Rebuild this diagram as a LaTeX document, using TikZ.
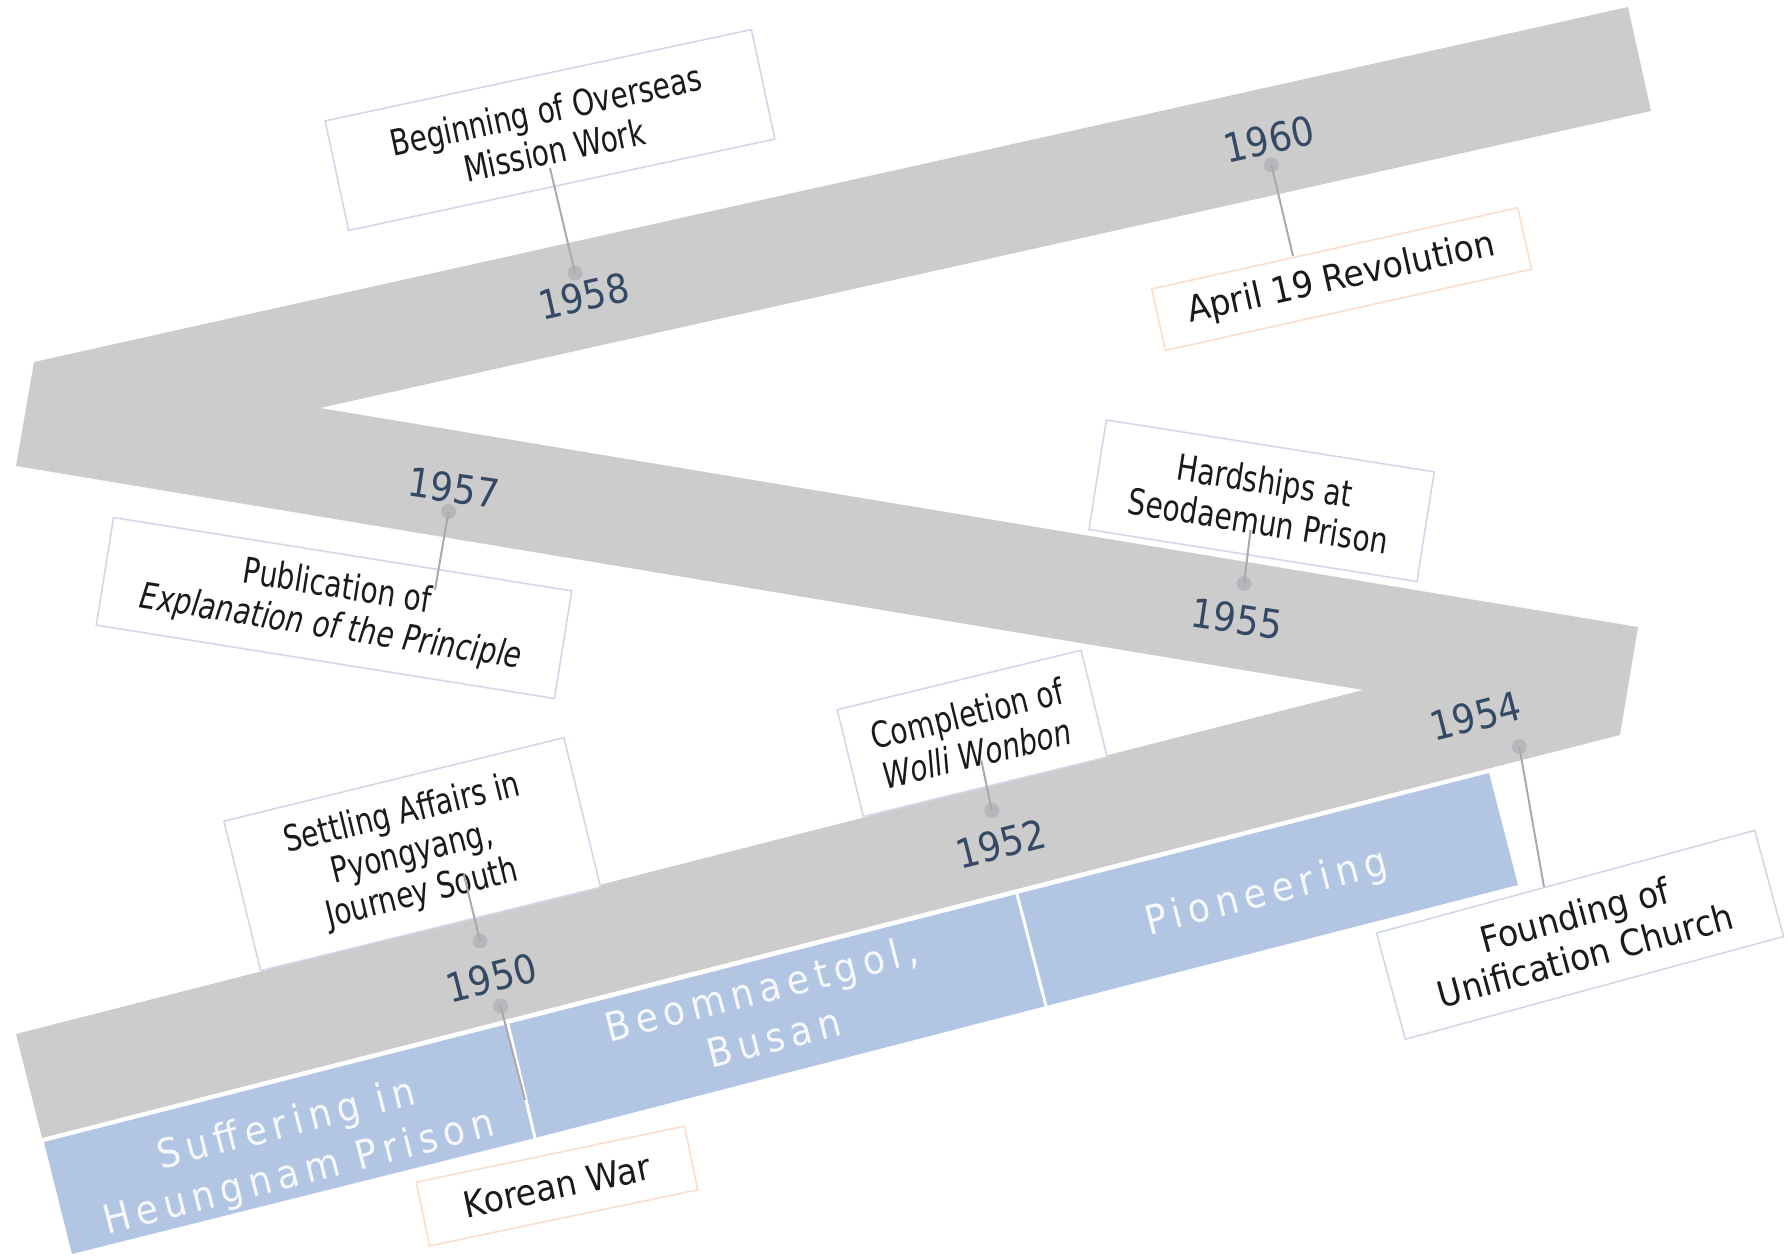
\documentclass[tikz,border=0pt]{standalone}
\usepackage{fontspec}
\setmainfont{DejaVu Sans}
\newfontfamily\evfont[FakeStretch=0.78]{DejaVu Sans}
\newfontfamily\evwide[FakeStretch=0.92]{DejaVu Sans}
\newfontfamily\yearfont[FakeStretch=0.9]{DejaVu Sans}
\newfontfamily\blockfont[FakeStretch=0.9,LetterSpace=16]{DejaVu Sans}
\definecolor{bandgrey}{RGB}{205,204,205}
\definecolor{blockblue}{RGB}{178,198,228}
\definecolor{yearcol}{RGB}{52,73,100}
\definecolor{boxblue}{RGB}{208,216,232}
\definecolor{boxorange}{RGB}{250,222,204}
\definecolor{conncol}{RGB}{170,170,174}
\definecolor{dotcol}{RGB}{182,183,188}
\definecolor{evtext}{RGB}{26,26,28}
\definecolor{blocktext}{RGB}{246,248,252}
\tikzset{
  evbox/.style={draw=boxblue, line width=1.6pt, fill=white, inner sep=0pt, align=center,
    text=evtext, font=\evfont\fontsize{36}{41}\selectfont},
  orbox/.style={evbox, draw=boxorange, font=\evwide\fontsize{36}{42}\selectfont},
  widebox/.style={evbox, font=\evwide\fontsize{36}{42}\selectfont},
  yearlabel/.style={text=yearcol, inner sep=0pt, font=\yearfont\fontsize{40}{40}\selectfont},
  tdot/.style={circle, fill=dotcol, inner sep=0pt, minimum size=15pt},
  conn/.style={draw=conncol, line width=2pt},
  blocklabel/.style={text=blocktext, inner sep=0pt, align=center,
    font=\blockfont\fontsize{40}{50}\selectfont},
  sepline/.style={draw=white, line width=3pt}
}
\begin{document}
\begin{tikzpicture}[x=1pt,y=-1pt]
\useasboundingbox (0,0) rectangle (1788,1258);

% grey zigzag band
\fill[bandgrey] (34,362) -- (1628,7) -- (1651,111) -- (320,408) -- (1638,627)
  -- (1620,735) -- (42,1138) -- (16,1034) -- (1363,690) -- (16,466) -- cycle;

% blue period blocks
\fill[blockblue] (44,1142) -- (508,1024) -- (535,1138) -- (72,1254) -- cycle;
\fill[blockblue] (508,1024) -- (1017,894) -- (1046,1006) -- (535,1138) -- cycle;
\fill[blockblue] (1017,894) -- (1489,773) -- (1518,885) -- (1046,1006) -- cycle;
\draw[sepline] (508,1024) -- (535,1138);
\draw[sepline] (1017,894) -- (1046,1006);

% event boxes
\node[evbox, minimum width=436pt, minimum height=112pt, rotate=12.1] (beg) at (550,130)
  {Beginning of Overseas\\Mission Work};
\node[orbox, minimum width=375pt, minimum height=63pt, rotate=12.5] (apr) at (1341.6,279.1)
  {April 19 Revolution};
\node[evbox, minimum width=464pt, minimum height=109pt, rotate=-9.1] (pub) at (334,608)
  {Publication of\\\textit{Explanation of the Principle}};
\node[evbox, minimum width=332pt, minimum height=111pt, rotate=-9] (hard) at (1261.6,500.7)
  {Hardships at\\Seodaemun Prison};
\node[evbox, minimum width=251pt, minimum height=110pt, rotate=13.7] (comp) at (972.2,733.4)
  {Completion of\\\textit{Wolli Wonbon}};
\node[evbox, minimum width=350pt, minimum height=154pt, rotate=13.8] (sett) at (412.3,854.2)
  {Settling Affairs in\\Pyongyang,\\Journey South};
\node[widebox, minimum width=392pt, minimum height=110pt, rotate=15.2] (found) at (1580,934.8)
  {Founding of\\Unification Church};
\node[orbox, minimum width=274pt, minimum height=65pt, rotate=11.8] (kor) at (557,1186)
  {Korean War};

% connector ends
\coordinate (e58) at (550,168);
\coordinate (e60) at (1293,256);
\coordinate (e57) at (435,590);
\coordinate (e55) at (1250.6,530);
\coordinate (e54) at (1544,887);
\coordinate (e52) at (981.3,760.4);
\coordinate (e50a) at (463.8,874.3);
\coordinate (e50b) at (525,1100);

% dots
\node[tdot] (d58) at (575,273) {};
\node[tdot] (d60) at (1271.4,165) {};
\node[tdot] (d57) at (448.5,511.5) {};
\node[tdot] (d55) at (1244,583.5) {};
\node[tdot] (d54) at (1519.3,746.7) {};
\node[tdot] (d52) at (991.8,810.5) {};
\node[tdot] (d50a) at (480,941) {};
\node[tdot] (d50b) at (500.6,1006) {};

% connectors
\draw[conn] (d58.center) -- (e58);
\draw[conn] (d60.center) -- (e60);
\draw[conn] (d57.center) -- (e57);
\draw[conn] (d55.center) -- (e55);
\draw[conn] (d54.center) -- (e54);
\draw[conn] (d52.center) -- (e52);
\draw[conn] (d50a.center) -- (e50a);
\draw[conn] (d50b.center) -- (e50b);

% year labels
\node[yearlabel, rotate=12.5] (y58) at (583.8,296.5) {1958};
\node[yearlabel, rotate=12.5] (y60) at (1269,139) {1960};
\node[yearlabel, rotate=-8.5] (y57) at (453.8,488) {1957};
\node[yearlabel, rotate=-8.5] (y55) at (1236.7,618.6) {1955};
\node[yearlabel, rotate=14.3] (y54) at (1475.5,716) {1954};
\node[yearlabel, rotate=14.3] (y52) at (1001.2,843.8) {1952};
\node[yearlabel, rotate=14.3] (y50) at (491.5,977.8) {1950};

% period labels
\node[blocklabel, rotate=14.3] (b1) at (293,1150) {Suffering in\\Heungnam Prison};
\node[blocklabel, rotate=14.3] (b2) at (767.4,1012.6) {Beomnaetgol,\\Busan};
\node[blocklabel, rotate=14.3] (b3) at (1266.9,894) {Pioneering};
\end{tikzpicture}
\end{document}
